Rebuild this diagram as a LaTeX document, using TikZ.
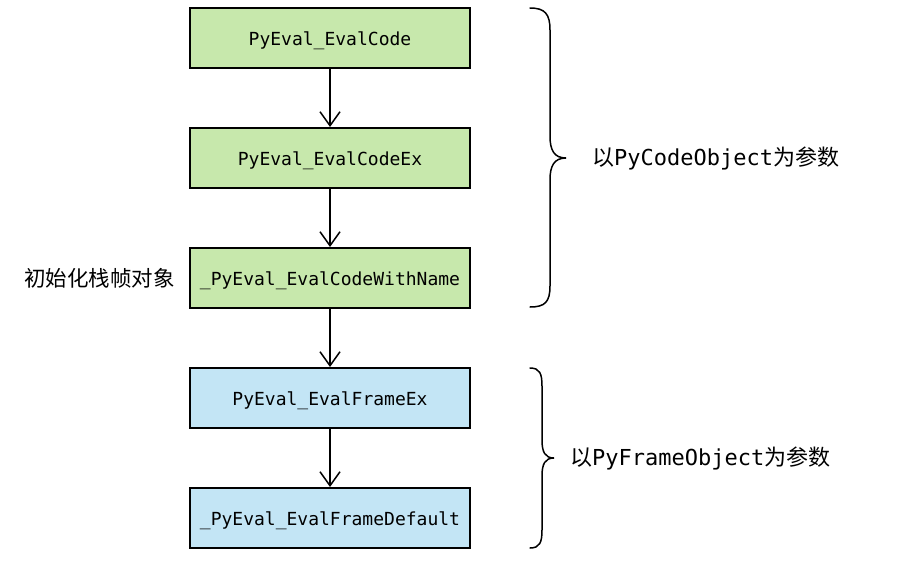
\documentclass[tikz,border=0pt]{standalone}
\usepackage{fontspec}
\setmonofont{DejaVu Sans Mono}
\newfontfamily\cjk{Noto Sans CJK SC}
\usetikzlibrary{arrows.meta}
\definecolor{boxgreen}{RGB}{199,232,172}
\definecolor{boxblue}{RGB}{195,229,245}
\begin{document}
\begin{tikzpicture}[x=1pt,y=-1pt,
  fn/.style={draw=black, line width=2pt, minimum width=280pt, minimum height=60pt, inner sep=0pt, text height=16pt, text depth=2pt, font=\ttfamily\fontsize{18}{20}\selectfont},
  arr/.style={line width=1.5pt, -{Straight Barb[length=14pt,width=20pt]}},
  brc/.style={line width=1.5pt, line cap=round},
  side/.style={inner sep=0pt, font=\fontsize{22}{24}\selectfont},
  left/.style={inner sep=0pt, font=\cjk\fontsize{21.5}{24}\selectfont}]
\useasboundingbox (0,0) rectangle (906,576);
\node[fn, fill=boxgreen] (a) at (330,38) {PyEval\_EvalCode};
\node[fn, fill=boxgreen] (b) at (330,158) {PyEval\_EvalCodeEx};
\node[fn, fill=boxgreen] (c) at (330,278) {\_PyEval\_EvalCodeWithName};
\node[fn, fill=boxblue] (d) at (330,398) {PyEval\_EvalFrameEx};
\node[fn, fill=boxblue] (e) at (330,518) {\_PyEval\_EvalFrameDefault};
\draw[arr] (a) -- (b);
\draw[arr] (b) -- (c);
\draw[arr] (c) -- (d);
\draw[arr] (d) -- (e);
\node[left, anchor=east] (init) at (175,278) {初始化栈帧对象};
\draw[brc] (530,8) .. controls (545,8) and (550,14) .. (550,30) -- (550,136) .. controls (550,150) and (554,158) .. (566,158) .. controls (554,158) and (550,166) .. (550,180) -- (550,286) .. controls (550,302) and (545,307) .. (530,307);
\node[side, anchor=west] (p1) at (592,158) {{\cjk 以}{\ttfamily PyCodeObject}{\cjk 为参数}};
\draw[brc] (530,368) .. controls (540,368) and (542,374) .. (542,386) -- (542,440) .. controls (542,452) and (545,458) .. (554,458) .. controls (545,458) and (542,464) .. (542,476) -- (542,530) .. controls (542,542) and (540,548) .. (530,548);
\node[side, anchor=west] (p2) at (570,458) {{\cjk 以}{\ttfamily PyFrameObject}{\cjk 为参数}};
\end{tikzpicture}
\end{document}
